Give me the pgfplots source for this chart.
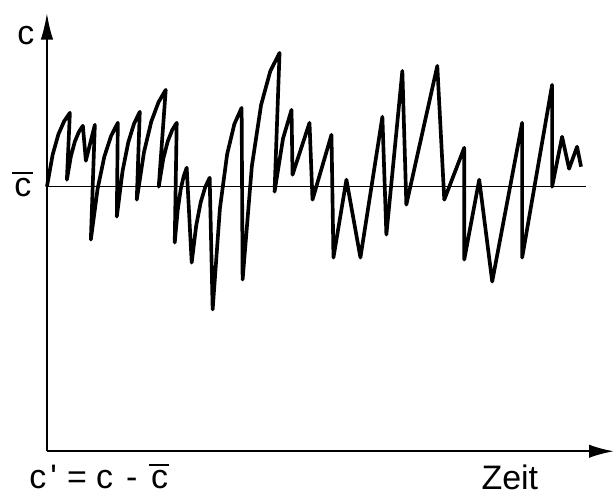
\documentclass[border=0pt]{standalone}
\usepackage{pgfplots}
\pgfplotsset{compat=1.18}
\usepackage{pgfplotstable}
\usetikzlibrary{arrows.meta}
\usepackage{fontspec}
\setmainfont{Liberation Sans}
\newcommand\cbar{\makebox[0pt][l]{\hspace{-0.06em}\raisebox{0.66em}{\rule{0.6em}{0.06em}}}c}

\pgfplotstableread{
x y
47 187
52.75 154.9
58.5 134.5
64.25 121.4
70 113
67 180
71 156.6
75 141.7
79 132.1
83 126
86 161
95 125
91 240
97.75 189.2
104.5 156.9
111.25 136.2
118 123
117 217
122.75 171.4
128.5 142.5
134.25 123.9
140 112
137 200
144.25 152.3
151.5 121.9
158.75 102.4
166 90
159 187
163.5 159.2
168 141.6
172.5 130.2
177 123
175 243
178 210.5
181 189.7
184 176.5
187 168
192 263
196.5 226.1
201 202.7
205.5 187.6
210 178
213 310
220.25 209
227.5 154.5
234.75 124.2
242 108
243 280
252.25 166.5
261.5 105.2
270.75 71.2
280 53
275 192
283.5 138.7
292 110
293 175
310 123
313 200
332 135
334 258
347 180
361 258
383 117
387 235
403 71
407 205
438 66
445 200
465 148
465 260
480 180
493 282
523 123
523 258
553 85
553 187
563 137
570 169
578 147
582 167
}\signal

\begin{document}
\begin{tikzpicture}
\begin{axis}[
  scale only axis,
  width=340.8pt, height=263.4pt,
  xmin=47, xmax=615, ymin=-452, ymax=-13,
  axis lines=none,
  clip=false,
]
\path (axis cs:0,-495) rectangle (axis cs:615,0);
% mean line
\addplot[black, line width=0.8pt] coordinates {(47,-187) (587,-187)};
% signal
\addplot[black, line width=2.2pt, line join=round] table[x=x, y expr=-\thisrow{y}] {\signal};
% axes
\draw[black, line width=1.2pt, -{Latex[length=16pt, width=7.5pt]}] (axis cs:47,-452) -- (axis cs:47,-13);
\draw[black, line width=1.2pt, -{Latex[length=15pt, width=8pt]}] (axis cs:47,-452) -- (axis cs:615,-452);
% labels
\tikzset{lbl/.style={anchor=base west, inner sep=0pt, font=\fontsize{20.4}{24}\selectfont}}
\node[lbl] at (axis cs:17,-45) {c};
\node[lbl] at (axis cs:14,-197) {\cbar};
\node[lbl] at (axis cs:29,-489) {c\hspace{0.12em}\textquotesingle};
\node[lbl] at (axis cs:67,-489) {=};
\node[lbl] at (axis cs:96,-489) {c};
\node[lbl] at (axis cs:126,-489) {-};
\node[lbl] at (axis cs:151,-489) {\cbar};
\node[lbl] at (axis cs:482,-490) {Zeit};
\end{axis}
\end{tikzpicture}
\end{document}
